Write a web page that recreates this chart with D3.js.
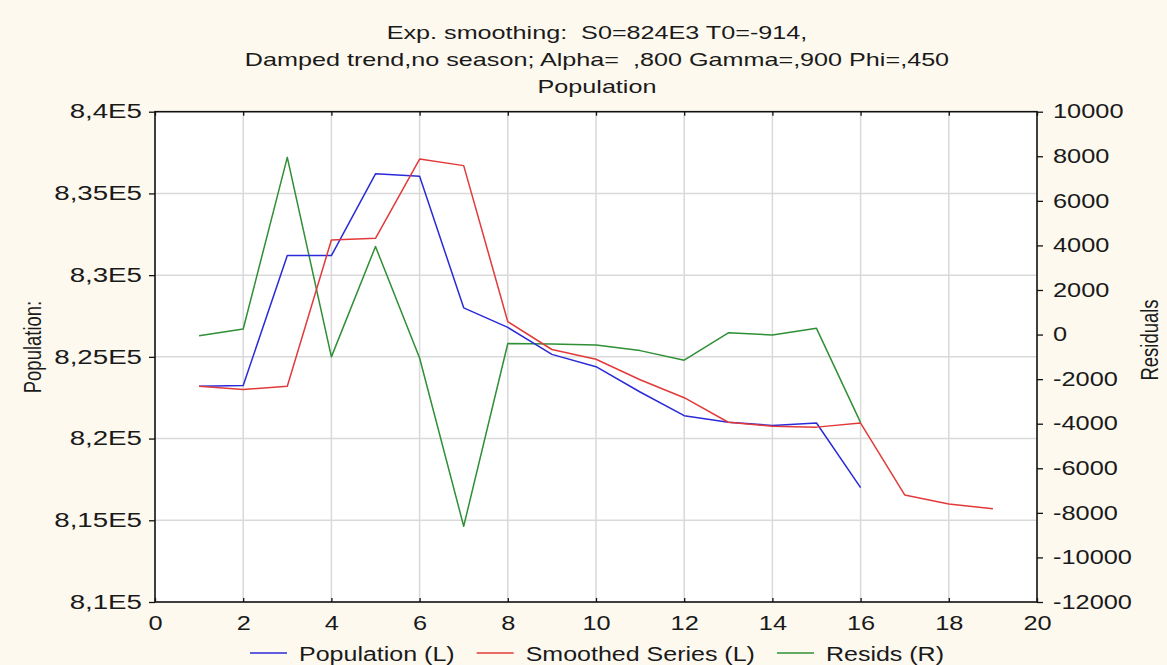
<!DOCTYPE html>
<html>
<head>
<meta charset="utf-8">
<script src="https://cdn.jsdelivr.net/npm/d3@7"></script>
<style>
  html, body { margin: 0; padding: 0; background: #fdf9ef; }
  svg { display: block; }
  text { font-family: "Liberation Sans", Arial, sans-serif; fill: #1a1a1a; white-space: pre; }
</style>
</head>
<body>
<svg id="chart" width="1167" height="665"></svg>
<script>
// Exponential smoothing output: observed series, smoothed series and residuals
const steps = [1, 2, 3, 4, 5, 6, 7, 8, 9, 10, 11, 12, 13, 14, 15, 16, 17, 18, 19];
const population = [823200, 823250, 831200, 831200, 836200, 836050, 828000, 826800,
                    825150, 824400, 822850, 821400, 821000, 820800, 820950, 817000];
const smoothed = [823200, 823000, 823200, 832150, 832250, 837100, 836700, 827150,
                  825450, 824850, 823600, 822500, 821000, 820750, 820700, 820950,
                  816550, 816000, 815700];
const resids = [-50, 250, 7950, -1000, 3950, -1050, -8600, -400, -420, -470,
                -720, -1150, 80, -20, 280, -3950];

const leftTicks = [810000, 815000, 820000, 825000, 830000, 835000, 840000];
const leftTickLabels = ["8,1E5", "8,15E5", "8,2E5", "8,25E5", "8,3E5", "8,35E5", "8,4E5"];
const rightTicks = [-12000, -10000, -8000, -6000, -4000, -2000, 0, 2000, 4000, 6000, 8000, 10000];
const xTicks = [0, 2, 4, 6, 8, 10, 12, 14, 16, 18, 20];

const titleLines = [
  "Exp. smoothing:  S0=824E3 T0=-914,",
  "Damped trend,no season; Alpha=  ,800 Gamma=,900 Phi=,450",
  "Population"
];
const seriesNames = ["Population (L)", "Smoothed Series (L)", "Resids (R)"];
const seriesColors = ["#2a2ad8", "#e23a3a", "#2f8f35"];

// Layout
const W = 1167, H = 665;
const plot = { left: 155, right: 1037, top: 111.7, bottom: 602 };
const STRETCH = 1.3;   // the lettering is wider than the stock font

// Widen a text element horizontally by a factor, keeping its anchor
function widen(sel, k) {
  sel.each(function () {
    const w = this.getComputedTextLength();
    if (w > 0) d3.select(this).attr("textLength", w * k).attr("lengthAdjust", "spacingAndGlyphs");
  });
}

const svg = d3.select("#chart");
svg.append("rect").attr("width", W).attr("height", H).attr("fill", "#fdf9ef");

const x = d3.scaleLinear().domain([0, 20]).range([plot.left, plot.right]);
const yL = d3.scaleLinear().domain([810000, 840000]).range([plot.bottom, plot.top]);
const yR = d3.scaleLinear().domain([-12000, 10000]).range([plot.bottom, plot.top]);

// Plot background
svg.append("rect")
  .attr("x", plot.left).attr("y", plot.top)
  .attr("width", plot.right - plot.left).attr("height", plot.bottom - plot.top)
  .attr("fill", "#ffffff");

// Grid lines
const grid = svg.append("g").attr("stroke", "#d9d9d9").attr("stroke-width", 1.5);
grid.selectAll("line.v").data(xTicks.slice(1, -1)).join("line")
  .attr("x1", d => x(d)).attr("x2", d => x(d))
  .attr("y1", plot.top).attr("y2", plot.bottom);
grid.selectAll("line.h").data(leftTicks.slice(1, -1)).join("line")
  .attr("x1", plot.left).attr("x2", plot.right)
  .attr("y1", d => yL(d)).attr("y2", d => yL(d));

// Axes
const fontTick = 19.5;
const plain = d => String(d);
const leftAxis = d3.axisLeft(yL).tickValues(leftTicks)
  .tickFormat((d, i) => leftTickLabels[i]).tickSize(6).tickPadding(7);
const rightAxis = d3.axisRight(yR).tickValues(rightTicks)
  .tickFormat(plain).tickSize(6).tickPadding(10);
const bottomAxis = d3.axisBottom(x).tickValues(xTicks)
  .tickFormat(plain).tickSize(-4).tickPadding(14);
const topAxis = d3.axisTop(x).tickValues(xTicks).tickFormat("").tickSize(-4);

function styleAxis(g) {
  g.selectAll(".domain").remove();
  g.selectAll(".tick line").attr("stroke", "#111").attr("stroke-width", 1.3);
  g.selectAll("text").attr("font-size", fontTick).attr("fill", "#1a1a1a")
    .style("font-family", '"Liberation Sans", Arial, sans-serif');
}

const gLeft = svg.append("g").attr("transform", `translate(${plot.left},0)`).call(leftAxis).call(styleAxis);
const gRight = svg.append("g").attr("transform", `translate(${plot.right},0)`).call(rightAxis).call(styleAxis);
const gBottom = svg.append("g").attr("transform", `translate(0,${plot.bottom})`).call(bottomAxis).call(styleAxis);
svg.append("g").attr("transform", `translate(0,${plot.top})`).call(topAxis).call(styleAxis);
widen(gLeft.selectAll("text"), 1.42);
widen(gRight.selectAll("text"), STRETCH);
widen(gBottom.selectAll("text"), STRETCH);

// Plot frame
svg.append("rect")
  .attr("x", plot.left).attr("y", plot.top)
  .attr("width", plot.right - plot.left).attr("height", plot.bottom - plot.top)
  .attr("fill", "none").attr("stroke", "#111").attr("stroke-width", 1.6);

// Series lines
const lineL = d3.line().x((d, i) => x(steps[i])).y(d => yL(d));
const lineR = d3.line().x((d, i) => x(steps[i])).y(d => yR(d));
const lines = svg.append("g").attr("fill", "none").attr("stroke-width", 1.5)
  .attr("stroke-linejoin", "round");
lines.append("path").datum(resids).attr("d", lineR).attr("stroke", seriesColors[2]);
lines.append("path").datum(population).attr("d", lineL).attr("stroke", seriesColors[0]);
lines.append("path").datum(smoothed).attr("d", lineL).attr("stroke", seriesColors[1]);

// Title
const title = svg.append("g").selectAll("text").data(titleLines).join("text")
  .attr("x", (plot.left + plot.right) / 2 + 1)
  .attr("y", (d, i) => 39 + i * 27)
  .attr("text-anchor", "middle")
  .attr("font-size", 18.5)
  .attr("xml:space", "preserve")
  .text(d => d);
widen(title, 1.36);

// Axis titles (rotated)
svg.append("text")
  .attr("transform", `translate(41,347) scale(${STRETCH},1) rotate(-90)`)
  .attr("text-anchor", "middle").attr("font-size", 18.5)
  .text("Population:");
svg.append("text")
  .attr("transform", `translate(1158,340) scale(${STRETCH},1) rotate(-90)`)
  .attr("text-anchor", "middle").attr("font-size", 18.5)
  .text("Residuals");

// Legend
const legendFont = 20;
const legend = svg.append("g");
const legendY = 653;
let cursor = 250;
seriesNames.forEach((name, i) => {
  legend.append("line")
    .attr("x1", cursor).attr("x2", cursor + 37)
    .attr("y1", legendY).attr("y2", legendY)
    .attr("stroke", seriesColors[i]).attr("stroke-width", 1.6);
  const t = legend.append("text")
    .attr("x", cursor + 49).attr("y", legendY + 8)
    .attr("font-size", legendFont).text(name);
  widen(t, 1.25);
  cursor += 49 + (+t.attr("textLength")) + 22;
});
</script>
</body>
</html>
